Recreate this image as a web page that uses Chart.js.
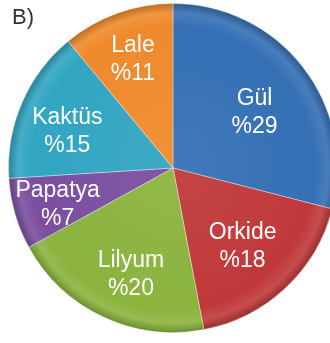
<!DOCTYPE html>
<html>
<head>
<meta charset="utf-8">
<script src="https://cdn.jsdelivr.net/npm/chart.js@4"></script>
<style>
  html, body { margin: 0; padding: 0; background: #fff; overflow: hidden; width: 330px; height: 343px; }
  #wrap { position: relative; width: 330px; height: 343px; overflow: hidden; }
  #tag { position: absolute; left: 12px; top: 4px; font: 22px "Liberation Sans", Arial, sans-serif; color: #333; }
  canvas { position: absolute; left: 0; top: 0; }
</style>
</head>
<body>
<div id="wrap">
  <canvas id="pie" width="350" height="343"></canvas>
  <div id="tag">B)</div>
</div>
<script>
// çiçek türleri ve yüzdeleri
const flowers = ['Gül', 'Orkide', 'Lilyum', 'Papatya', 'Kaktüs', 'Lale'];
const shares = [29, 18, 20, 7, 15, 11];
const sliceColors = ['#3570b5', '#c0393a', '#8bb33e', '#7b4ea0', '#31a5c2', '#ef8a2c'];
// etiket yerleşimi: merkezden uzaklık (yarıçap oranı) ve açı kaydırması (derece)
const labelDist = [0.60, 0.64, 0.695, 0.735, 0.68, 0.705];
const labelTurn = [3.5, 1.8, -3.6, -1.2, -4.2, -0.4];

function hexRgb(h) {
    const n = parseInt(h.slice(1), 16);
    return [(n >> 16) & 255, (n >> 8) & 255, n & 255];
}
function mix(h, t, amt) {
    const c = hexRgb(h);
    return 'rgb(' + c.map(v => Math.round(v + (t - v) * amt)).join(',') + ')';
}

// kenarda hafif kabartma etkisi veren radyal geçiş
function shade(ctx) {
    const base = sliceColors[ctx.dataIndex];
    const a = ctx.chart.chartArea;
    if (!a) return base;
    const cx = (a.left + a.right) / 2, cy = (a.top + a.bottom) / 2;
    const r = Math.min(a.right - a.left, a.bottom - a.top) / 2;
    const g = ctx.chart.ctx.createRadialGradient(cx, cy, 0, cx, cy, r);
    g.addColorStop(0, mix(base, 255, 0.06));
    g.addColorStop(0.86, base);
    g.addColorStop(0.94, mix(base, 255, 0.10));
    g.addColorStop(1, mix(base, 0, 0.22));
    return g;
}

const sliceLabels = {
    id: 'sliceLabels',
    afterDatasetsDraw(chart) {
        const c = chart.ctx;
        const arcs = chart.getDatasetMeta(0).data;
        c.save();
        c.fillStyle = '#fff';
        c.font = '23px "Liberation Sans", Arial, sans-serif';
        c.textAlign = 'center';
        c.textBaseline = 'middle';
        arcs.forEach((arc, i) => {
            const mid = (arc.startAngle + arc.endAngle) / 2 + labelTurn[i] * Math.PI / 180;
            const d = arc.outerRadius * labelDist[i];
            const x = arc.x + Math.cos(mid) * d;
            const y = arc.y + Math.sin(mid) * d;
            c.fillText(flowers[i], x, y - 14);
            c.fillText('%' + shares[i], x, y + 14);
        });
        c.restore();
    }
};

new Chart(document.getElementById('pie'), {
    type: 'pie',
    data: {
        labels: flowers,
        datasets: [{
            data: shares,
            backgroundColor: shade,
            borderColor: 'rgba(255,255,255,0.35)',
            borderWidth: 1
        }]
    },
    options: {
        responsive: false,
        animation: false,
        layout: { padding: { left: 8, right: 12, top: 3, bottom: 10 } },
        plugins: { legend: { display: false }, tooltip: { enabled: false } }
    },
    plugins: [sliceLabels]
});
</script>
</body>
</html>
